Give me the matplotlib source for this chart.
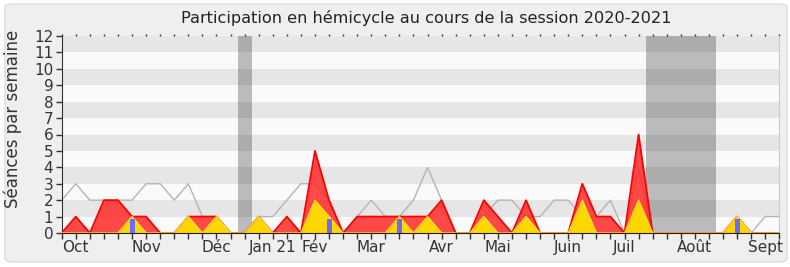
import numpy as np
import matplotlib
matplotlib.use("Agg")
import matplotlib.pyplot as plt
from matplotlib.patches import FancyBboxPatch

# weekly values, session 2020-2021 (one point per week)
weeks = np.arange(52)
presence = [0, 1, 0, 2, 2, 1, 1, 0, 0, 1, 1, 1, 0, 0, 1, 0, 1, 0, 5, 2,
            0, 1, 1, 1, 1, 1, 1, 2, 0, 0, 2, 1, 0, 2, 0, 0, 0, 3, 1, 1,
            0, 6, 0, 0, 0, 0, 0, 0, 1, 0, 0, 0]
interventions = [0, 0, 0, 0, 0, 1, 0, 0, 0, 1, 0, 1, 0, 0, 1, 0, 0, 0, 2, 1,
                 0, 0, 0, 0, 1, 0, 1, 0, 0, 0, 1, 0, 0, 1, 0, 0, 0, 2, 0, 0,
                 0, 2, 0, 0, 0, 0, 0, 0, 1, 0, 0, 0]
median = [2, 3, 2, 2, 2, 2, 3, 3, 2, 3, 1, 1, 0, 0, 1, 1, 2, 3, 3, 2,
          0, 1, 2, 1, 1, 2, 4, 2, 0, 0, 1, 2, 2, 1, 1, 2, 2, 1, 1, 2,
          0, 4, 0, 0, 0, 0, 0, 0, 1, 0, 1, 1]
question_weeks = [5, 19, 24, 48]
question_vals = [0.85, 0.85, 0.85, 0.85]
vacances = [(12.5, 13.5), (41.5, 46.5)]
month_pos = [1, 6, 11, 15, 18, 22, 27, 31, 36, 40, 45, 50]
month_labels = ["Oct", "Nov", "Déc", "Jan 21", "Fév", "Mar", "Avr", "Mai",
                "Juin", "Juil", "Août", "Sept"]


def main():
    fig = plt.figure(figsize=(7.9, 2.67), dpi=100)
    fig.patch.set_facecolor("white")
    panel = FancyBboxPatch((5 / 790, 5 / 267), 782 / 790, 258 / 267,
                           boxstyle="round,pad=0,rounding_size=0.012",
                           transform=fig.transFigure, facecolor="#efefef",
                           edgecolor="#dddddd", lw=1, zorder=-5)
    fig.patches.append(panel)

    ax = fig.add_axes([61.7 / 790, 34 / 267, 717.6 / 790, 197 / 267])
    ax.set_zorder(2)
    ax.set_facecolor("#fafafa")

    # horizontal stripes
    for k in range(1, 12, 2):
        ax.axhspan(k, k + 1, color="#e6e6e6", lw=0, zorder=0)
    for a, b in vacances:
        ax.axvspan(a, b, color="black", alpha=0.25, lw=0, zorder=1)

    ax.plot(weeks, median, color="#b4b4b4", lw=1, zorder=2)
    ax.fill_between(weeks, presence, color="#ff2a2a", alpha=0.85, lw=0, zorder=3)
    ax.plot(weeks, presence, color="#ff0000", lw=1.3, zorder=3)
    ax.fill_between(weeks, interventions, color="#ffd700", lw=0, zorder=4)
    ax.plot(weeks, interventions, color="#ffe020", lw=1, zorder=4)
    ax.bar(question_weeks, question_vals, width=0.35, color="#6b6bff", zorder=5)

    ax.set_xlim(0, 51)
    ax.set_ylim(0, 12)
    ax.set_yticks(range(13))
    ax.set_xticks(weeks, minor=True)
    ax.set_xticks(month_pos, month_labels)
    ax.tick_params(axis="both", which="both", colors="#333333", labelsize=11,
                   length=4, width=1)
    ax.tick_params(axis="x", which="both", top=True, pad=1)
    ax.tick_params(axis="y", pad=2)
    # top ticks are only small dots
    for t in ax.xaxis.get_major_ticks() + ax.xaxis.get_minor_ticks():
        t.tick2line.set_markersize(1.5)
        t.tick2line.set_color("#111111")

    ax.spines["top"].set_visible(False)
    ax.spines["right"].set_color("#cccccc")
    ax.spines["left"].set_color("#333333")
    ax.spines["bottom"].set_color("#2a1a1a")
    ax.spines["bottom"].set_zorder(10)

    fig.text(426 / 790, 1 - 18 / 267, "Participation en hémicycle au cours de la session 2020-2021",
             ha="center", va="center", fontsize=11.6, color="#222222")
    fig.text(13 / 790, 1 - 119 / 267, "Séances par semaine", rotation=90,
             ha="center", va="center", fontsize=12, color="#333333")

    fig.savefig("out.png", dpi=100)


if __name__ == "__main__":
    main()
